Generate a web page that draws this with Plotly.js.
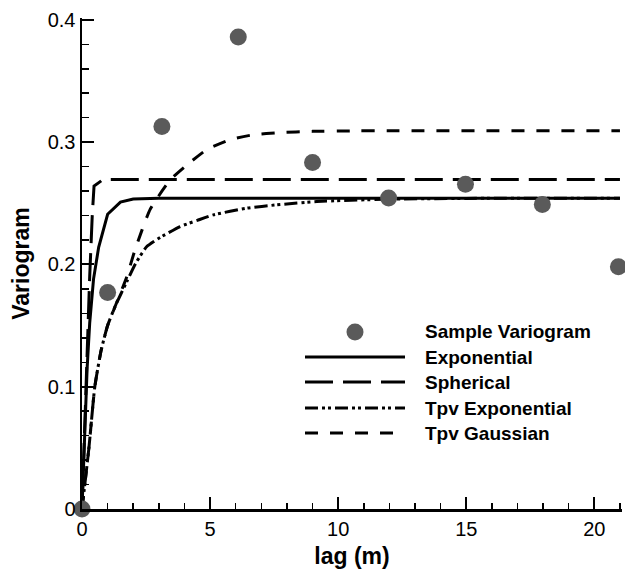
<!DOCTYPE html>
<html>
<head>
<meta charset="utf-8">
<script src="https://cdn.plot.ly/plotly-3.0.1.min.js"></script>
<style>html,body{margin:0;padding:0;background:#fff;}#chart{width:625px;height:571px;}</style>
</head>
<body>
<div id="chart"></div>
<script>
// ---- data ----
const lagSample   = [0, 1.0, 3.12, 6.1, 9.0, 11.97, 14.97, 17.97, 20.94];
const gammaSample = [0, 0.177, 0.3127, 0.386, 0.2833, 0.2543, 0.2655, 0.249, 0.198];

const lagExp   = [0, 0.1, 0.2, 0.3, 0.45, 0.65, 1.0, 1.5, 2.0, 3.0, 21];
const gammaExp = [0, 0.066, 0.115, 0.152, 0.188, 0.214, 0.241, 0.251, 0.2535, 0.2542, 0.2542];

const lagSph   = [0, 0.1, 0.2, 0.3, 0.4, 0.47, 0.82, 21];
const gammaSph = [0, 0.07, 0.135, 0.19, 0.24, 0.264, 0.2694, 0.2694];

const lagTpvE   = [0, 0.27, 0.5, 0.75, 1.0, 1.3, 1.75, 2.1, 2.53, 3.05, 3.83, 4.5, 5.13, 6.43, 7.6, 9.17, 11.8, 15, 21];
const gammaTpvE = [0, 0.05, 0.10, 0.13, 0.15, 0.166, 0.186, 0.201, 0.2146, 0.222, 0.231, 0.236, 0.2405, 0.246, 0.2487, 0.2514, 0.2533, 0.254, 0.2542];

const lagTpvG   = [0, 0.27, 0.5, 0.75, 1.0, 1.3, 1.75, 2.07, 2.66, 3.44, 4.02, 4.88, 5.78, 6.68, 7.7, 9.0, 10.5, 12, 21];
const gammaTpvG = [0, 0.05, 0.10, 0.13, 0.15, 0.166, 0.19, 0.212, 0.245, 0.269, 0.280, 0.294, 0.302, 0.306, 0.3078, 0.3088, 0.3092, 0.3093, 0.3093];

const xTickVals = [0, 5, 10, 15, 20];
const xTickText = ['0', '5', '10', '15', '20'];
const yTickVals = [0, 0.1, 0.2, 0.3, 0.4];
const yTickText = ['0', '0.1', '0.2', '0.3', '0.4'];

const seriesNames = ['Sample Variogram', 'Exponential', 'Spherical', 'Tpv Exponential', 'Tpv Gaussian'];

// ---- styles ----
const FONT = 'Liberation Sans, Arial, Helvetica, sans-serif';
const markerColor = '#5a5a5a';
const dashes = {
  'Exponential': 'solid',
  'Spherical': '28px,10px',
  'Tpv Exponential': '13px,4px,3px,3px,3px,4px',
  'Tpv Gaussian': '13px,12px'
};

const lineTrace = (x, y, name, shape) => ({
  type: 'scatter', mode: 'lines', x: x, y: y, name: name,
  line: {color: 'black', width: 3, dash: dashes[name], shape: shape || 'linear', smoothing: 0.5},
  cliponaxis: false, hoverinfo: 'skip'
});

const traces = [
  lineTrace(lagExp, gammaExp, 'Exponential'),
  lineTrace(lagSph, gammaSph, 'Spherical'),
  lineTrace(lagTpvE, gammaTpvE, 'Tpv Exponential', 'spline'),
  lineTrace(lagTpvG, gammaTpvG, 'Tpv Gaussian', 'spline'),
  {
    type: 'scatter', mode: 'markers', x: lagSample, y: gammaSample, name: 'Sample Variogram',
    marker: {size: 17, color: markerColor, line: {width: 0}},
    cliponaxis: false
  }
];

// ---- hand-drawn legend (long line samples), paper coords ----
// plot area: 82..622 px wide (540), 18..509 px tall (491)
const pxX = p => (p - 82) / 540;
const pxY = p => (509 - p) / 491;
const legX0 = pxX(305), legX1 = pxX(405), legMarkX = pxX(355), legTextX = pxX(423);
const legRowY = [332, 357, 382, 408, 433].map(pxY);
const shapes = [];
const annotations = [];
seriesNames.forEach((nm, i) => {
  if (i === 0) {
    shapes.push({type: 'circle', xref: 'paper', yref: 'paper', xsizemode: 'pixel', ysizemode: 'pixel',
      xanchor: legMarkX, yanchor: legRowY[i], x0: -8.5, x1: 8.5, y0: -8.5, y1: 8.5,
      fillcolor: markerColor, line: {width: 0}});
  } else {
    shapes.push({type: 'line', xref: 'paper', yref: 'paper', x0: legX0, x1: legX1, y0: legRowY[i], y1: legRowY[i],
      line: {color: 'black', width: 3, dash: dashes[nm]}});
  }
  annotations.push({xref: 'paper', yref: 'paper', x: legTextX, y: legRowY[i], xanchor: 'left', yanchor: 'middle',
    text: nm, showarrow: false, font: {family: FONT, size: 19, weight: 700, color: 'black'}});
});

const layout = {
  width: 625, height: 571,
  margin: {l: 82, r: 3, t: 18, b: 62},
  paper_bgcolor: 'white', plot_bgcolor: 'white',
  showlegend: false,
  font: {family: FONT, color: 'black'},
  xaxis: {
    range: [0, 21.08], tickmode: 'array', tickvals: xTickVals, ticktext: xTickText,
    ticks: 'inside', ticklen: 12, tickwidth: 2, tickcolor: 'black',
    minor: {dtick: 1, tick0: 0, ticks: 'inside', ticklen: 6, tickwidth: 1.5, tickcolor: 'black', showgrid: false},
    showline: true, linewidth: 2.5, linecolor: 'black', showgrid: false, zeroline: false,
    tickfont: {family: FONT, size: 20, color: 'black'},
    title: {text: 'lag (m)', font: {family: FONT, size: 23, weight: 700, color: 'black'}, standoff: 10},
    automargin: false
  },
  yaxis: {
    range: [0, 0.4015], tickmode: 'array', tickvals: yTickVals, ticktext: yTickText,
    ticks: 'inside', ticklen: 12, tickwidth: 2, tickcolor: 'black',
    minor: {dtick: 0.02, tick0: 0, ticks: 'inside', ticklen: 7, tickwidth: 1.5, tickcolor: 'black', showgrid: false},
    showline: true, linewidth: 2.5, linecolor: 'black', showgrid: false, zeroline: false,
    tickfont: {family: FONT, size: 20, color: 'black'},
    title: {text: 'Variogram', font: {family: FONT, size: 23, weight: 700, color: 'black'}, standoff: 12},
    automargin: false
  },
  shapes: shapes,
  annotations: annotations
};

Plotly.newPlot('chart', traces, layout, {displayModeBar: false, staticPlot: true});
</script>
</body>
</html>
